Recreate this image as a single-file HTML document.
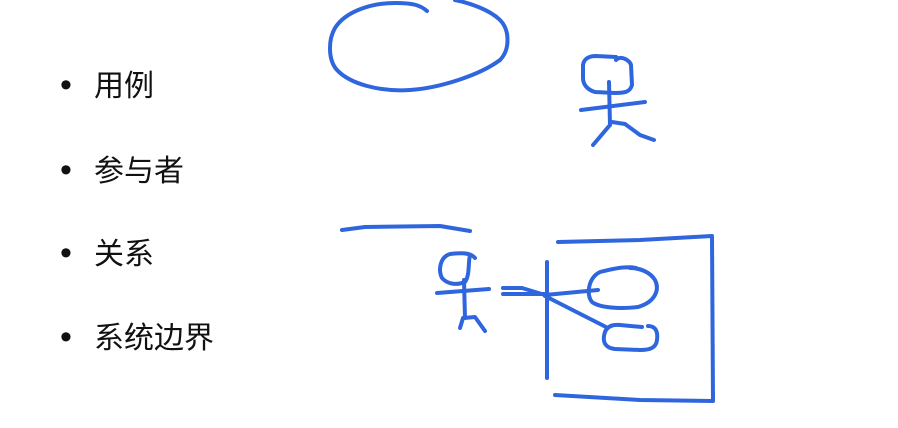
<!DOCTYPE html>
<html><head><meta charset="utf-8"><style>
html,body{margin:0;padding:0;background:#fff;width:898px;height:428px;overflow:hidden}
.item{position:absolute;left:60px;font-family:"Liberation Sans","Noto Sans CJK SC",sans-serif;font-size:30px;color:#111;line-height:34px}
.item span.b{display:inline-block;width:34px;font-size:34px}
svg{position:absolute;left:0;top:0}
</style></head><body>
<div class="item" style="top:68px"><span class="b">•</span>用例</div>
<div class="item" style="top:153px"><span class="b">•</span>参与者</div>
<div class="item" style="top:236px"><span class="b">•</span>关系</div>
<div class="item" style="top:320px"><span class="b">•</span>系统边界</div>
<svg width="898" height="428" fill="none" stroke="#2f66de" stroke-width="4" stroke-linecap="round" stroke-linejoin="round">
<path d="M427,11 C420,5 413,3 395,3 C370,3 345,12 335,28 C328,40 328,60 337,70 C350,84 380,92 410,90 C440,88 480,75 500,60 C510,50 510,30 500,20 C490,10 470,3 455,0"/>
<g>
<path d="M616,60 C620,55 630,60 631,65 L632,85 C630,92 625,93 615,93 L595,92 C588,90 583,85 583,78 L583,65 C584,58 590,56 596,56 L616,57"/>
<path d="M609,82 L610,125"/><path d="M581,110 L645,102"/>
<path d="M610,125 L593,145"/><path d="M612,122 L625,124 L640,135 L654,140"/>
</g>
<path d="M342,230 L365,227 L440,226 L470,231"/>
<g>
<path d="M475,258 C470,252 460,253 450,254 C440,257 438,270 442,278 C448,285 458,285 465,282 C470,275 468,262 470,255"/>
<path d="M464,280 L465,318"/><path d="M437,293 L489,289"/>
<path d="M463,318 L460,328"/><path d="M464,318 L475,317 L485,331"/>
</g>
<g>
<path d="M503,288 L522,288 L545,295"/><path d="M503,294 L545,294"/>
<path d="M545,295 L598,290"/><path d="M545,296 L606,327"/>
</g>
<path d="M547,262 L547,378"/>
<path d="M558,242 L640,240 L712,236 L713,401 L640,400 L555,395"/>
<path d="M636,268 C628,266 615,268 600,272 C588,278 586,295 592,302 C600,308 620,309 638,307 C655,302 660,290 655,280 C650,272 640,268 630,268"/>
<path d="M648,326 C656,326 658,332 657,340 C656,348 650,350 640,350 L615,349 C606,348 603,343 604,336 C605,328 610,324 620,325 L642,327"/>
</svg>
</body></html>
